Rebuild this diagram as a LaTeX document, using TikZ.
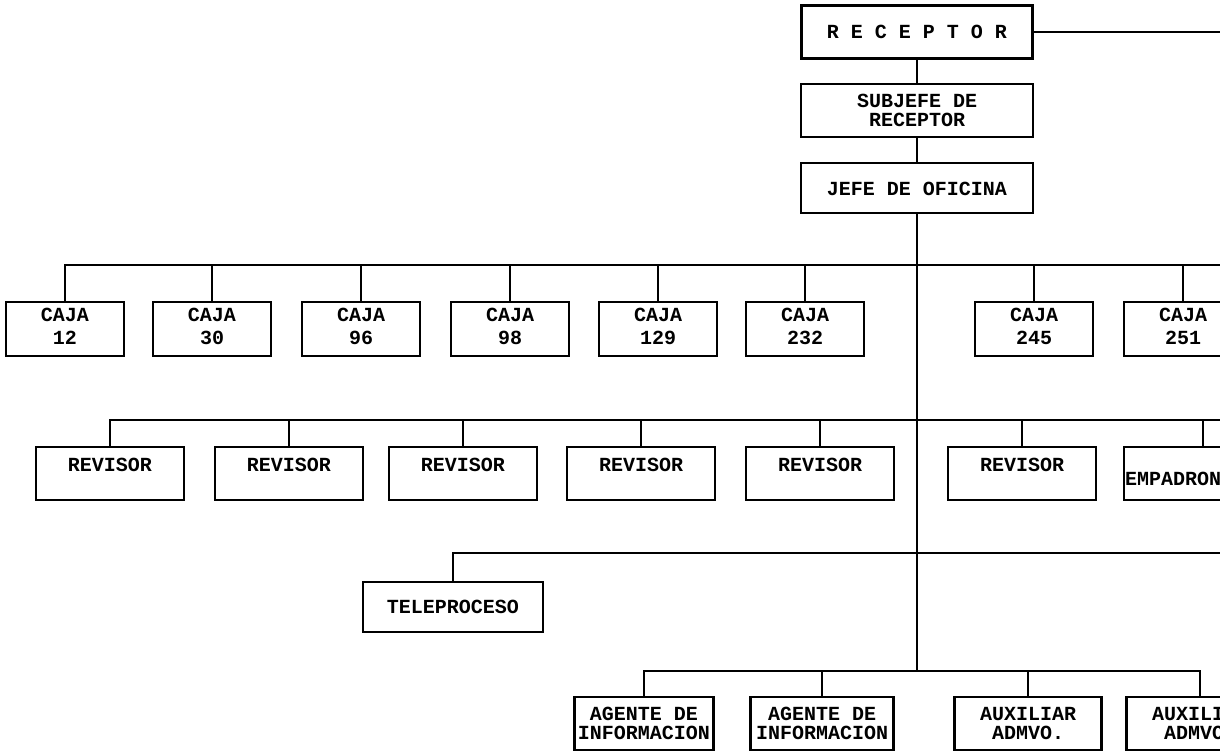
\documentclass[tikz,border=0pt]{standalone}
\usepackage{fontspec}
\newfontfamily\typew{Liberation Mono}
% shift a label up or down without changing the size the node sees
\newcommand{\nudge}[2]{\raisebox{#1}[11pt][4pt]{#2}}
\begin{document}
\begin{tikzpicture}[x=1pt,y=-1pt,
  wire/.style={line width=1.7pt, line join=miter},
  box/.style={draw, line width=2.1pt, inner sep=0pt, align=center,
    font=\typew\bfseries\fontsize{20}{18}\selectfont},
  cajabox/.style={box, minimum width=118, minimum height=54,
    font=\typew\bfseries\fontsize{20}{20}\selectfont},
  revbox/.style={box, minimum width=148, minimum height=53},
  lowbox/.style={box, minimum height=53,
    font=\typew\bfseries\fontsize{20}{19}\selectfont}]
\useasboundingbox (0,0) rectangle (1220,752);
\clip (0,0) rectangle (1220,752);

% head of the office
\node[box, minimum width=231, minimum height=53] (rec) at (917,32) {R E C E P T O R};
\node[box, minimum width=232, minimum height=53] (sub) at (917,110.5) {SUBJEFE DE\\[1pt]RECEPTOR};
\node[box, minimum width=232, minimum height=50] (jefe) at (917,188) {\nudge{-4pt}{JEFE DE OFICINA}};
\coordinate (recEnd) at (1220,32);
\coordinate (spineEnd) at (917,671);
\draw[wire] (rec.east) -- (recEnd);
\draw[wire] (rec.south) -- (sub.north);
\draw[wire] (sub.south) -- (jefe.north);
\draw[wire] (jefe.south) -- (spineEnd);

% cash desks
\node[cajabox] (c12)  at (65,329)   {\nudge{3pt}{CAJA}\\12};
\node[cajabox] (c30)  at (212,329)  {\nudge{3pt}{CAJA}\\30};
\node[cajabox] (c96)  at (361,329)  {\nudge{3pt}{CAJA}\\96};
\node[cajabox] (c98)  at (510,329)  {\nudge{3pt}{CAJA}\\98};
\node[cajabox] (c129) at (658,329)  {\nudge{3pt}{CAJA}\\129};
\node[cajabox] (c232) at (805,329)  {\nudge{3pt}{CAJA}\\232};
\node[cajabox] (c245) at (1034,329) {\nudge{3pt}{CAJA}\\245};
\node[cajabox] (c251) at (1183,329) {\nudge{3pt}{CAJA}\\251};
\coordinate (cajaR) at (1220,265);
\draw[wire] (c12.north) |- (cajaR);
\foreach \n in {c30,c96,c98,c129,c232,c245,c251}
  \draw[wire] (\n.north) -- (\n.north |- cajaR);

% reviewers
\node[revbox] (r1) at (110,473.5)  {\nudge{6pt}{REVISOR}};
\node[revbox] (r2) at (289,473.5)  {\nudge{6pt}{REVISOR}};
\node[revbox] (r3) at (463,473.5)  {\nudge{6pt}{REVISOR}};
\node[revbox] (r4) at (641,473.5)  {\nudge{6pt}{REVISOR}};
\node[revbox] (r5) at (820,473.5)  {\nudge{6pt}{REVISOR}};
\node[revbox] (r6) at (1022,473.5) {\nudge{6pt}{REVISOR}};
\node[revbox, minimum width=158] (emp) at (1203,473.5) {};
\node[anchor=west, inner sep=0pt, font=\typew\bfseries\fontsize{20}{18}\selectfont]
  (empText) at ([xshift=2pt,yshift=-5pt]emp.west) {EMPADRON};
\coordinate (revR) at (1220,420);
\draw[wire] (r1.north) |- (revR);
\foreach \n in {r2,r3,r4,r5,r6,emp}
  \draw[wire] (\n.north) -- (\n.north |- revR);

% data processing
\node[box, minimum width=180, minimum height=50] (tele) at (453,607) {TELEPROCESO};
\coordinate (teleR) at (1220,553);
\draw[wire] (tele.north) |- (teleR);

% information and administrative staff
\node[lowbox, minimum width=139] (a1) at (644,723.5)  {AGENTE DE\\INFORMACION};
\node[lowbox, minimum width=143] (a2) at (822,723.5)  {AGENTE DE\\INFORMACION};
\node[lowbox, minimum width=147] (a3) at (1028,723.5) {AUXILIAR\\ADMVO.};
\node[lowbox, minimum width=147] (a4) at (1200,723.5) {AUXILIAR\\ADMVO.};
\draw[wire] (a1.north) |- (spineEnd) -| (a4.north);
\foreach \n in {a2,a3}
  \draw[wire] (\n.north) -- (\n.north |- spineEnd);
\end{tikzpicture}
\end{document}
